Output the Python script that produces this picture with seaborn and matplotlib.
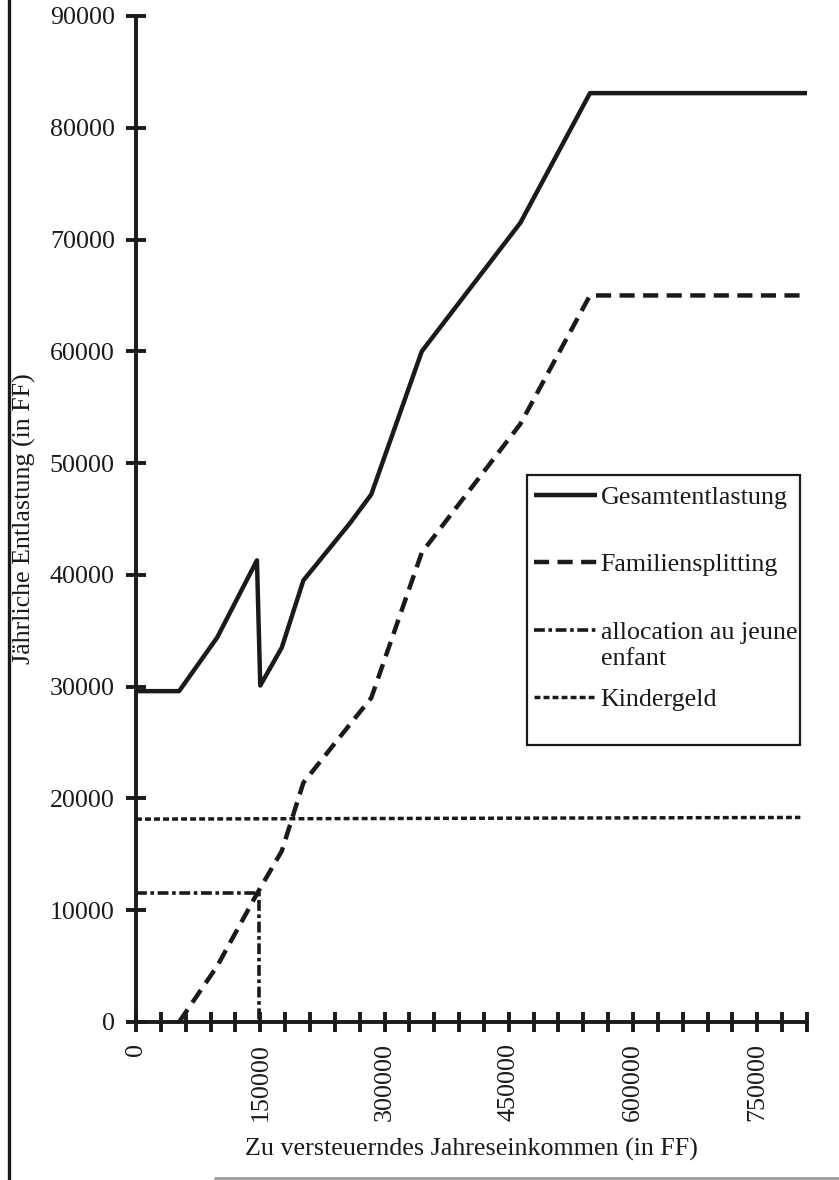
import numpy as np
import pandas as pd
import matplotlib
matplotlib.use("Agg")
import matplotlib.pyplot as plt
import seaborn as sns
from matplotlib.ticker import FixedLocator, FuncFormatter
from matplotlib.patches import Rectangle
from matplotlib.lines import Line2D

# ---- data ----
inc_total = [0, 52000, 98000, 146000, 150000, 176000, 202000, 258000, 284000, 345000, 464000, 548000, 810000]
val_total = [29600, 29600, 34400, 41300, 30100, 33500, 39500, 44600, 47200, 60000, 71500, 83100, 83100]

inc_split = [52000, 98000, 147000, 176000, 202000, 258000, 284000, 345000, 464000, 548000, 810000]
val_split = [0, 5000, 11600, 15300, 21400, 26600, 29000, 42000, 53500, 65000, 65000]

inc_ape = [0, 148000, 149000, 149000]
val_ape = [11500, 11500, 11500, 0]

inc_kg = [0, 802000]
val_kg = [18150, 18300]

labels = ["Gesamtentlastung", "Familiensplitting", "allocation au jeune", "Kindergeld"]
label_cont = "enfant"
x_ticks = list(range(0, 810001, 30000))
y_ticks = list(range(0, 90001, 10000))

# ---- style ----
sns.set_style("white")
plt.rcParams["font.family"] = ["Liberation Serif", "DejaVu Serif"]
FS = 18.7
plt.rcParams["font.size"] = FS

W, H = 839, 1180
fig = plt.figure(figsize=(W / 100, H / 100), dpi=100)
ax = fig.add_axes([136 / W, 1 - 1022 / H, (807 - 136) / W, (1022 - 16) / H])

lw = 3.2
styles = [
    dict(linestyle="-", linewidth=lw),
    dict(linestyle=(0, (3.4, 1.9)), linewidth=lw),
    dict(linestyle=(0, (3.0, 1.0, 1.0, 1.0)), linewidth=2.6),
    dict(linestyle=(0, (1.7, 0.9)), linewidth=2.5),
]
series = [(inc_total, val_total), (inc_split, val_split), (inc_ape, val_ape), (inc_kg, val_kg)]
for (xs, ys), st, lab in zip(series, styles, labels):
    sns.lineplot(x=xs, y=ys, ax=ax, color="#1a1a1a", estimator=None, sort=False,
                 label=lab, legend=False, solid_capstyle="butt", dash_capstyle="butt", **st)

ax.set_xlim(0, 810000)
ax.set_ylim(0, 90000)

for s in ["top", "right"]:
    ax.spines[s].set_visible(False)
for s in ["left", "bottom"]:
    ax.spines[s].set_linewidth(2.8)
    ax.spines[s].set_color("#1a1a1a")
    ax.spines[s].set_zorder(5)

ax.xaxis.set_major_locator(FixedLocator(x_ticks))
ax.xaxis.set_major_formatter(FuncFormatter(lambda v, p: f"{int(round(v))}" if int(round(v)) % 150000 == 0 else ""))
ax.yaxis.set_major_locator(FixedLocator(y_ticks))
ax.yaxis.set_major_formatter(FuncFormatter(lambda v, p: f"{int(round(v))}"))
ax.tick_params(axis="both", which="major", direction="inout", length=14.5, width=2.8, color="#1a1a1a",
               labelsize=FS, labelcolor="#1a1a1a", bottom=True, left=True)
ax.tick_params(axis="x", pad=8, labelrotation=90)
ax.tick_params(axis="y", pad=8)
for t in ax.get_xticklabels():
    t.set_va("top")
ax.grid(False)

ax.set_xlabel("Zu versteuerndes Jahreseinkommen (in FF)", fontsize=FS, color="#1a1a1a", labelpad=12)
ax.set_ylabel("Jährliche Entlastung (in FF)", fontsize=FS, color="#1a1a1a", labelpad=10)

# legend
handles = ax.get_lines()[:4]
leg = ax.legend(handles, labels, loc="upper left", bbox_to_anchor=((526 - 136) / 671, (1022 - 478) / 1006),
                frameon=False, handlelength=2.45, handletextpad=0.12, labelspacing=1.7,
                borderaxespad=0, borderpad=0.3, fontsize=FS)
leg.set_zorder(5)
for t in leg.get_texts():
    t.set_color("#1a1a1a")
ann = ax.annotate(label_cont, xy=(0, 0.5), xycoords=leg.get_texts()[2], xytext=(0, -19),
                  textcoords="offset points", ha="left", va="center", fontsize=FS, color="#1a1a1a",
                  annotation_clip=False)
ann.set_zorder(20)
ax.add_patch(Rectangle(((527 - 136) / 671, (1022 - 745) / 1006), (800 - 527) / 671, (745 - 475) / 1006,
                       transform=ax.transAxes, fill=False, edgecolor="#1a1a1a", linewidth=1.6, zorder=6,
                       clip_on=False))

# outer scanned frame
fig.add_artist(Line2D([9 / W, 9 / W], [0, 1], color="#1a1a1a", linewidth=2.4, transform=fig.transFigure))
fig.add_artist(Line2D([215 / W, 1], [1 - 1178 / H, 1 - 1178 / H], color="#9a9a9a", linewidth=2.0,
                      transform=fig.transFigure))

fig.savefig("out.png", dpi=100, facecolor="white")
